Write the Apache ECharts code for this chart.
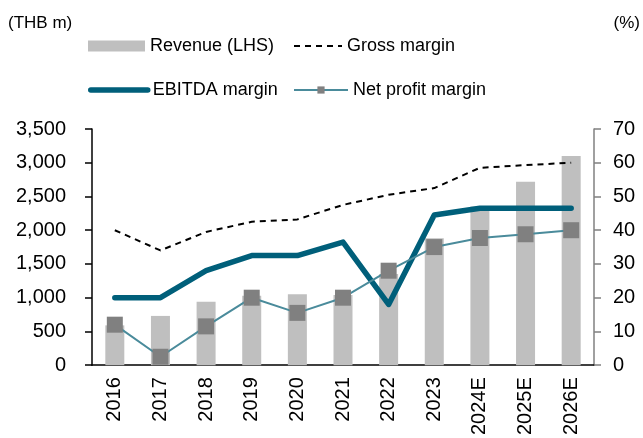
<!DOCTYPE html>
<html>
<head>
<meta charset="utf-8">
<script src="https://cdn.jsdelivr.net/npm/echarts@6/dist/echarts.min.js"></script>
<style>
  html, body { margin: 0; padding: 0; background: #fff; }
  #chart { width: 643px; height: 438px; }
</style>
</head>
<body>
<div id="chart"></div>
<script>
// chart data
const years = ['2016', '2017', '2018', '2019', '2020', '2021', '2022', '2023', '2024E', '2025E', '2026E'];
const revenue = [590, 730, 940, 1030, 1050, 1040, 1350, 1880, 2350, 2720, 3100];
const grossMargin = [40, 34, 39.5, 42.5, 43.2, 47.5, 50.5, 52.5, 58.5, 59.3, 60];
const ebitdaMargin = [20, 20, 28, 32.5, 32.5, 36.5, 18, 44.5, 46.5, 46.5, 46.5];
const netMargin = [12, 2.5, 11.5, 20, 15.5, 20, 28, 35, 37.7, 38.8, 40];
const leftTicks = { min: 0, max: 3500, interval: 500 };
const rightTicks = { min: 0, max: 70, interval: 10 };

const font = 'Liberation Sans, Arial, sans-serif';
const chart = echarts.init(document.getElementById('chart'));

const legendText = { color: '#000', fontSize: 18, fontFamily: font };
const mkLegend = (name, left, top, w, opts) => Object.assign({
  data: [name], left, top, itemWidth: w, itemHeight: 12,
  textStyle: legendText, padding: 0, itemGap: 0, selectedMode: false
}, opts || {});

chart.setOption({
  animation: false,
  textStyle: { fontFamily: font },
  grid: { left: 92, right: 49, top: 129, bottom: 71 },
  legend: [
    mkLegend('Revenue (LHS)', 88, 37, 57, { icon: 'rect', itemHeight: 11 }),
    mkLegend('Gross margin', 293, 37, 48, { itemStyle: { opacity: 0 } }),
    mkLegend('EBITDA margin', 88, 81, 57, {
      itemStyle: { opacity: 0 },
      lineStyle: { width: 5.5, cap: 'round' }
    }),
    mkLegend('Net profit margin', 293, 81, 54, { itemHeight: 9 })
  ],
  graphic: [
    { type: 'text', left: 8, top: 15, style: { text: '(THB m)', fontSize: 17, fontFamily: font, fill: '#000' } },
    { type: 'text', right: 3, top: 15, style: { text: '(%)', fontSize: 17, fontFamily: font, fill: '#000' } }
  ],
  xAxis: {
    type: 'category', data: years,
    axisLine: { lineStyle: { color: '#000', width: 1.5 } },
    axisTick: { length: 6, lineStyle: { color: '#000', width: 1.5 } },
    axisLabel: { rotate: 90, color: '#000', fontSize: 20, margin: 12 }
  },
  yAxis: [
    {
      type: 'value', ...leftTicks,
      axisLine: { show: true, lineStyle: { color: '#000', width: 1.5 } },
      axisTick: { show: true, length: 7, lineStyle: { color: '#000', width: 1.5 } },
      splitLine: { show: false },
      axisLabel: { color: '#000', fontSize: 20, margin: 26,
        formatter: v => v.toLocaleString('en-US') }
    },
    {
      type: 'value', ...rightTicks, position: 'right',
      axisLine: { show: true, lineStyle: { color: '#808080', width: 1.5 } },
      axisTick: { show: true, length: 7, lineStyle: { color: '#808080', width: 1.5 } },
      splitLine: { show: false },
      axisLabel: { color: '#000', fontSize: 20, margin: 19 }
    }
  ],
  series: [
    {
      name: 'Revenue (LHS)', type: 'bar', data: revenue, barWidth: 19,
      itemStyle: { color: '#bfbfbf' }
    },
    {
      name: 'Gross margin', type: 'line', yAxisIndex: 1, data: grossMargin,
      symbol: 'none', lineStyle: { color: '#000', width: 2, type: [6, 5] },
      itemStyle: { color: '#000' }
    },
    {
      name: 'EBITDA margin', type: 'line', yAxisIndex: 1, data: ebitdaMargin,
      symbol: 'none', lineStyle: { color: '#005f7a', width: 5.5, cap: 'round', join: 'round' },
      itemStyle: { color: '#005f7a' }
    },
    {
      name: 'Net profit margin', type: 'line', yAxisIndex: 1, data: netMargin,
      symbol: 'rect', symbolSize: 16,
      lineStyle: { color: '#4a8b9b', width: 2 },
      itemStyle: { color: '#808080' }
    }
  ]
});

window.addEventListener('resize', () => chart.resize());
</script>
</body>
</html>
